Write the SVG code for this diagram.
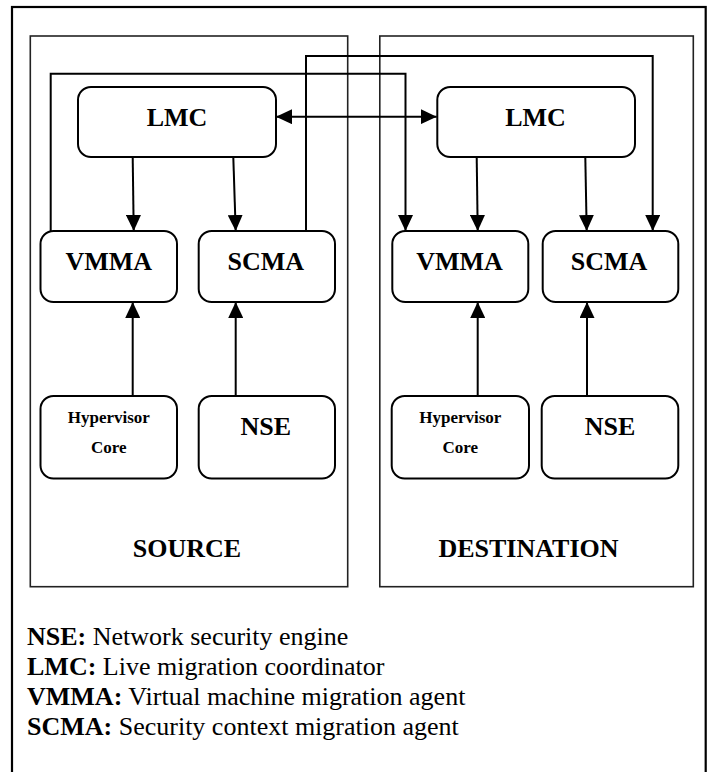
<svg xmlns="http://www.w3.org/2000/svg" width="713" height="772" viewBox="0 0 713 772">
<defs>
<style>
.frame{fill:none;stroke:#000;stroke-width:2.2}
.cont{fill:none;stroke:#222;stroke-width:1.6}
.node{fill:#fff;stroke:#000;stroke-width:2}
.conn{fill:none;stroke:#000;stroke-width:2}
.lbl{font-family:"Liberation Serif","Times New Roman",serif;font-weight:bold;font-size:26px;text-anchor:middle;fill:#000}
.small{font-size:17px}
.leg{font-family:"Liberation Serif","Times New Roman",serif;font-size:26px;fill:#000}
</style>
<marker id="ah" viewBox="0 0 16 15" refX="16" refY="7.5" markerWidth="16" markerHeight="15" markerUnits="userSpaceOnUse" orient="auto-start-reverse">
<path d="M0,0 L16,7.5 L0,15 z" fill="#000"/>
</marker>
</defs>
<rect width="713" height="772" fill="#fff"/>
<rect class="frame" x="12" y="7" width="693.7" height="790"/>
<g id="source">
<rect class="cont" x="30.3" y="36" width="317.4" height="550.7"/>
<text class="lbl" x="187" y="556.7">SOURCE</text>
</g>
<g id="destination">
<rect class="cont" x="379.8" y="36" width="313.5" height="550.7"/>
<text class="lbl" x="528.5" y="556.7">DESTINATION</text>
</g>
<g id="connectors">
<path class="conn" d="M50.7,231 V73.7 H405.5 V231" marker-end="url(#ah)"/>
<path class="conn" d="M306,231 V56 H652.7 V231" marker-end="url(#ah)"/>
<path class="conn" d="M276,116.7 H436.7" marker-start="url(#ah)" marker-end="url(#ah)"/>
<path class="conn" d="M132.7,157 L133.7,231" marker-end="url(#ah)"/>
<path class="conn" d="M233.3,157 L235.7,231" marker-end="url(#ah)"/>
<path class="conn" d="M476.7,157 L477.7,231" marker-end="url(#ah)"/>
<path class="conn" d="M585.3,157 L586.7,231" marker-end="url(#ah)"/>
<path class="conn" d="M132.7,396 V302" marker-end="url(#ah)"/>
<path class="conn" d="M235.7,396 V302" marker-end="url(#ah)"/>
<path class="conn" d="M477.7,396 V302" marker-end="url(#ah)"/>
<path class="conn" d="M587,396 V302" marker-end="url(#ah)"/>
</g>
<g id="src-lmc"><rect class="node" x="78" y="87" width="198" height="70" rx="13"/><text class="lbl" x="177" y="126">LMC</text></g>
<g id="src-vmma"><rect class="node" x="40.5" y="231" width="136.5" height="71" rx="13"/><text class="lbl" x="108.7" y="269.5">VMMA</text></g>
<g id="src-scma"><rect class="node" x="198.7" y="231" width="136.3" height="71" rx="13"/><text class="lbl" x="265.8" y="269.5">SCMA</text></g>
<g id="src-hyp"><rect class="node" x="40.5" y="396" width="136.5" height="82.5" rx="13"/><text class="lbl small" x="108.8" y="422.7">Hypervisor</text><text class="lbl small" x="108.8" y="452.7">Core</text></g>
<g id="src-nse"><rect class="node" x="198.7" y="396" width="136.3" height="82.5" rx="13"/><text class="lbl" x="265.8" y="435">NSE</text></g>
<g id="dst-lmc"><rect class="node" x="437.3" y="87" width="197.7" height="70" rx="13"/><text class="lbl" x="535.5" y="126">LMC</text></g>
<g id="dst-vmma"><rect class="node" x="392.3" y="231" width="136" height="71" rx="13"/><text class="lbl" x="459.5" y="269.5">VMMA</text></g>
<g id="dst-scma"><rect class="node" x="542.7" y="231" width="135.6" height="71" rx="13"/><text class="lbl" x="609" y="269.5">SCMA</text></g>
<g id="dst-hyp"><rect class="node" x="391.7" y="396" width="137.3" height="82.5" rx="13"/><text class="lbl small" x="460.3" y="422.7">Hypervisor</text><text class="lbl small" x="460.3" y="452.7">Core</text></g>
<g id="dst-nse"><rect class="node" x="541.7" y="396" width="136.6" height="82.5" rx="13"/><text class="lbl" x="610" y="435">NSE</text></g>
<g id="legend">
<text class="leg" x="27" y="645"><tspan font-weight="bold">NSE:</tspan> Network security engine</text>
<text class="leg" x="27" y="675"><tspan font-weight="bold">LMC:</tspan> Live migration coordinator</text>
<text class="leg" x="27" y="705"><tspan font-weight="bold">VMMA:</tspan> Virtual machine migration agent</text>
<text class="leg" x="27" y="735"><tspan font-weight="bold">SCMA:</tspan> Security context migration agent</text>
</g>
</svg>
